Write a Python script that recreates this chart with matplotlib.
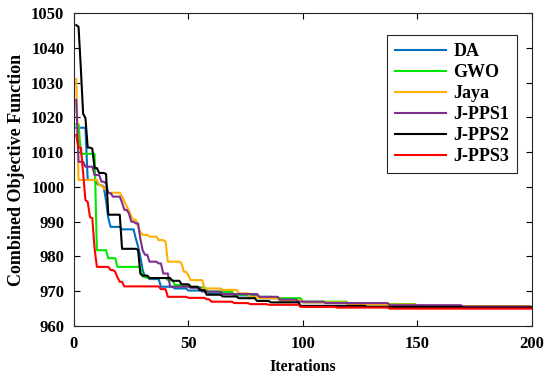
import matplotlib
matplotlib.use('Agg')
import matplotlib.pyplot as plt
import numpy as np

plt.rcParams['font.family'] = 'Liberation Serif'
plt.rcParams['font.weight'] = 'bold'
plt.rcParams['axes.labelweight'] = 'bold'
plt.rcParams['font.size'] = 12

# Datos (iteracion donde cambia el mejor valor, valor)
da_it = [1, 6, 10, 11, 13, 14, 15, 16, 21, 27, 28, 29, 30, 31, 33, 38, 44, 50, 59, 70, 81, 90, 100, 120, 150, 200]
da_val = [1017, 1002, 1001, 1000.5, 1000, 996, 991, 988.5, 987.8, 985.2, 982.8, 979.9, 976.1, 974.2, 973.5,
          971.3, 970.8, 970.2, 969.4, 968.8, 968, 967.3, 966.8, 966.2, 965.7, 965.4]

gwo_it = [1, 3, 10, 15, 19, 30, 32, 41, 44, 51, 58, 70, 77, 87, 100, 120, 150, 200]
gwo_val = [1018, 1009.5, 981.8, 979.5, 977, 974.2, 973.8, 973.2, 971.8, 971.1, 969.9, 969, 968.4, 968,
           967, 966.3, 965.7, 965.5]

jaya_it = [1, 2, 11, 13, 15, 21, 22, 23, 24, 25, 26, 28, 29, 30, 33, 37, 40, 41, 47, 48, 50, 51, 57, 65,
           72, 77, 81, 90, 100, 120, 150, 200]
jaya_val = [1031, 1002, 1000.5, 999.5, 998.3, 997.3, 995.8, 994.5, 993.2, 991.5, 990.5, 988.6, 987, 986.2,
            985.7, 984.7, 984.3, 978.5, 978, 975.6, 974.5, 973.2, 970.8, 970.4, 969.4, 968.4, 968, 967.4,
            966.8, 966.2, 965.7, 965.5]

pps1_it = [1, 2, 5, 9, 12, 14, 15, 17, 21, 22, 24, 25, 27, 29, 30, 31, 33, 37, 39, 42, 51, 56, 65, 81,
           90, 98, 110, 138, 170, 200]
pps1_val = [1025, 1007.2, 1005.8, 1003.4, 1001.5, 1001, 998.2, 997.2, 995.5, 993.4, 992.4, 990, 989.5,
            985, 981.8, 980.5, 978.5, 978, 975.1, 971.3, 971, 969.9, 969.2, 968.4, 967.6, 967, 966.6, 966,
            965.6, 965.5]

pps2_it = [1, 2, 3, 4, 5, 6, 8, 9, 11, 14, 15, 21, 28, 29, 30, 33, 43, 47, 51, 55, 58, 65, 72, 80, 86,
           99, 128, 170, 200]
pps2_val = [1046.5, 1046, 1034, 1021, 1019.8, 1011.3, 1011, 1005.4, 1004, 1003.7, 992, 982.2, 981.9, 975,
            974.5, 973.8, 973, 972, 971.3, 970.3, 969, 968.5, 968, 967.2, 966.8, 965.8, 965.5, 965.3, 965.3]

pps3_it = [1, 2, 4, 5, 6, 7, 8, 9, 10, 16, 18, 19, 20, 22, 38, 41, 50, 58, 60, 70, 77, 85, 99, 115, 138, 200]
pps3_val = [1014.9, 1011.3, 1004, 996.2, 995.7, 991.3, 991, 982.3, 977, 976.1, 975.6, 974, 972.7, 971.4,
            970.6, 968.4, 968.1, 967.7, 967, 966.6, 966.3, 966.1, 965.5, 965.3, 965.0, 965.0]

n_iter = 200
iters = np.arange(1, n_iter + 1)


def curva(it, val):
    # el mejor valor se mantiene hasta la siguiente mejora
    y = np.empty(n_iter)
    for i, v in zip(it, val):
        y[i - 1:] = v
    return y


fig = plt.figure(figsize=(5.5, 3.8), dpi=100)
ax = fig.add_axes([0.1345, 0.142, 0.8325, 0.824])

lw = 1.5
ax.plot(iters, curva(da_it, da_val), color='#0072BD', lw=lw, label='DA')
ax.plot(iters, curva(gwo_it, gwo_val), color='#00E800', lw=lw, label='GWO')
ax.plot(iters, curva(jaya_it, jaya_val), color='#FFB000', lw=lw, label='Jaya')
ax.plot(iters, curva(pps1_it, pps1_val), color='#7E2F8E', lw=lw, label='J-PPS1')
ax.plot(iters, curva(pps2_it, pps2_val), color='black', lw=lw, label='J-PPS2')
ax.plot(iters, curva(pps3_it, pps3_val), color='#FF0000', lw=lw, label='J-PPS3')

ax.set_xlim(0, 200)
ax.set_ylim(960, 1050)
ax.set_xticks([0, 50, 100, 150, 200])
ax.set_yticks(range(960, 1051, 10))
ax.tick_params(direction='in', top=True, right=True, length=4, width=0.8, pad=7)
for lab in ax.get_xticklabels() + ax.get_yticklabels():
    lab.set_fontweight('bold')
for s in ax.spines.values():
    s.set_linewidth(0.8)
    s.set_color('#262626')

ax.set_xlabel('Iterations', labelpad=5, fontweight='bold', fontsize=11.5)
ax.set_ylabel('Combined Objective Function', labelpad=4, fontweight='bold', fontsize=13)

leg = ax.legend(loc='upper right', bbox_to_anchor=(0.968, 0.93), borderaxespad=0, fancybox=False,
                framealpha=1, edgecolor='#262626', handlelength=2.8, handletextpad=0.4,
                labelspacing=0.22, borderpad=0.45, prop={'weight': 'bold', 'size': 13})
leg.get_frame().set_linewidth(0.8)

plt.savefig('out.png', dpi=100)
